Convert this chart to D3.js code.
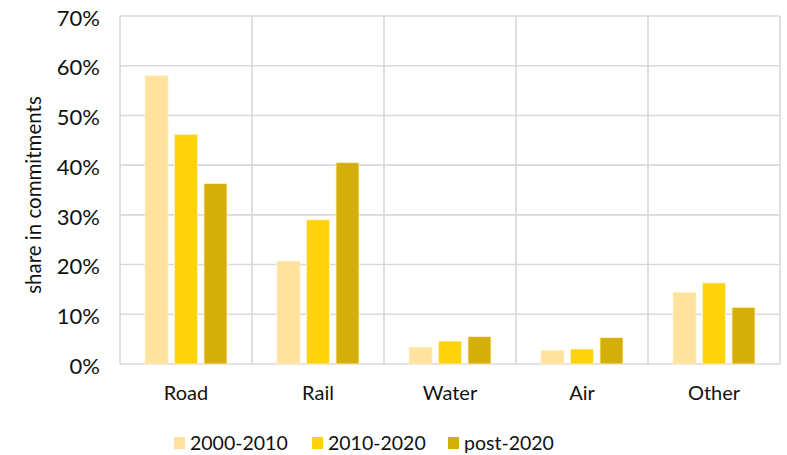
<!DOCTYPE html>
<html>
<head>
<meta charset="utf-8">
<script src="https://cdn.jsdelivr.net/npm/d3@7"></script>
<style>
  html, body { margin: 0; padding: 0; background: #fff; }
  svg text { font-family: "Lato", "Noto Sans", sans-serif; fill: #111; }
</style>
</head>
<body>
<svg id="chart" width="787" height="455"></svg>
<script>
// Transport modes and share of commitments per period
const categories = ["Road", "Rail", "Water", "Air", "Other"];
const seriesNames = ["2000-2010", "2010-2020", "post-2020"];
const values2000_2010 = [0.580, 0.207, 0.034, 0.027, 0.144];
const values2010_2020 = [0.462, 0.290, 0.046, 0.030, 0.163];
const valuesPost2020  = [0.363, 0.405, 0.055, 0.053, 0.114];
const yTicks = [0, 0.1, 0.2, 0.3, 0.4, 0.5, 0.6, 0.7];
const colors = ["#FFE29E", "#FFD20C", "#D4AF0A"];

const series = [values2000_2010, values2010_2020, valuesPost2020];

const svg = d3.select("#chart");
const margin = { left: 120, right: 7, top: 16, bottom: 91 };
const W = 787, H = 455;
const plotW = W - margin.left - margin.right;
const plotH = H - margin.top - margin.bottom;

const g = svg.append("g").attr("transform", `translate(${margin.left},${margin.top})`);

const x0 = d3.scaleBand().domain(categories).range([0, plotW]).paddingInner(0).paddingOuter(0);
const groupW = 82;
const x1 = d3.scaleBand().domain(seriesNames).range([0, groupW]).paddingInner(0.22);
const y = d3.scaleLinear().domain([0, 0.7]).range([plotH, 0]);

const gridColor = "#d9d9d9";

// horizontal gridlines
g.append("g").selectAll("line").data(yTicks).join("line")
  .attr("x1", 0).attr("x2", plotW)
  .attr("y1", d => y(d)).attr("y2", d => y(d))
  .attr("stroke", gridColor).attr("stroke-width", 1.6);

// vertical category separators
const seps = categories.map(c => x0(c)).concat([plotW]);
g.append("g").selectAll("line").data(seps).join("line")
  .attr("x1", d => d).attr("x2", d => d)
  .attr("y1", 0).attr("y2", plotH)
  .attr("stroke", gridColor).attr("stroke-width", 1.6);

// bars
const groupOffset = (x0.bandwidth() - groupW) / 2;
series.forEach((vals, si) => {
  g.append("g").selectAll("rect").data(vals).join("rect")
    .attr("x", (d, i) => x0(categories[i]) + groupOffset + x1(seriesNames[si]))
    .attr("width", x1.bandwidth())
    .attr("y", d => y(d))
    .attr("height", d => plotH - y(d))
    .attr("fill", colors[si])
    .attr("stroke", "#fff3c8").attr("stroke-width", 0.8);
});

// y axis
const yAxis = g.append("g")
  .call(d3.axisLeft(y).tickValues(yTicks).tickFormat(d3.format(".0%")).tickSize(0).tickPadding(20));
yAxis.select(".domain").remove();
yAxis.selectAll("text").style("font-size", "22px").attr("dy", "0.42em");

// x axis
const xAxis = g.append("g").attr("transform", `translate(0,${plotH})`)
  .call(d3.axisBottom(x0).tickSize(0).tickPadding(0));
xAxis.select(".domain").remove();
xAxis.selectAll("text").style("font-size", "20px").attr("y", 36).attr("dy", null);

// y axis title
svg.append("text")
  .attr("transform", `translate(41,195) rotate(-90)`)
  .attr("text-anchor", "middle")
  .style("font-size", "20.5px")
  .text("share in commitments");

// legend
const legendX = [174, 312, 448];
const legend = svg.append("g").attr("transform", "translate(0,443)");
seriesNames.forEach((name, i) => {
  legend.append("rect").attr("x", legendX[i]).attr("y", -6).attr("width", 11).attr("height", 12).attr("fill", colors[i]);
  legend.append("text").attr("x", legendX[i] + 16).attr("y", 0).attr("dy", "0.36em")
    .style("font-size", "19.5px").text(name);
});
</script>
</body>
</html>
